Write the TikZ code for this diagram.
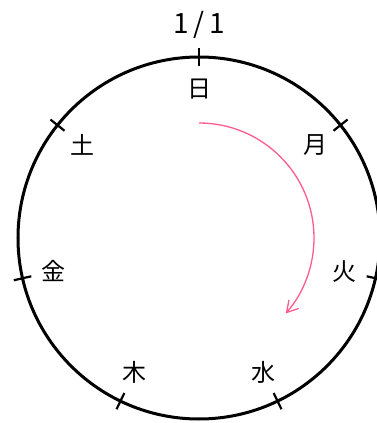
\documentclass[tikz,border=0pt]{standalone}
\usepackage{fontspec}
\newfontfamily\jpfont{Noto Sans CJK JP}
\usetikzlibrary{arrows.meta}
\definecolor{arcpink}{HTML}{FF5C8D}

\begin{document}
\begin{tikzpicture}[
  x=1pt, y=1pt,
  dial/.style={circle, draw, line width=3pt, minimum size=362pt, inner sep=0pt},
  daytick/.style={line width=2.2pt},
  daylabel/.style={font=\jpfont\fontsize{24}{24}\selectfont, inner sep=0pt},
  arr/.style={-{Straight Barb[length=11pt, width=13pt]}, line width=1.3pt, arcpink}
]
\useasboundingbox[fill=white] (-199,-185) rectangle (178,238);
\clip (-199,-185) rectangle (178,238);

% Week dial
\node[dial] (dial) at (0,0) {};
\node[daylabel, font=\jpfont\fontsize{28}{28}\selectfont] (newyear) at (0,213) {1\,/\,1};

% Days of the week, with a tick for each
\foreach \d [count=\k from 0] in {日,月,火,水,木,金,土} {
  \pgfmathsetmacro\ang{90-\k*360/7}
  \node[daylabel] (day\k) at (\ang:149) {\d};
  \draw[daytick] (\ang:172) -- (\ang:190);
}

% Direction of the week
\coordinate (arcstart) at (90:115);
\draw[arr] (arcstart) arc[start angle=90, end angle=-41, radius=115];

\end{tikzpicture}
\end{document}
